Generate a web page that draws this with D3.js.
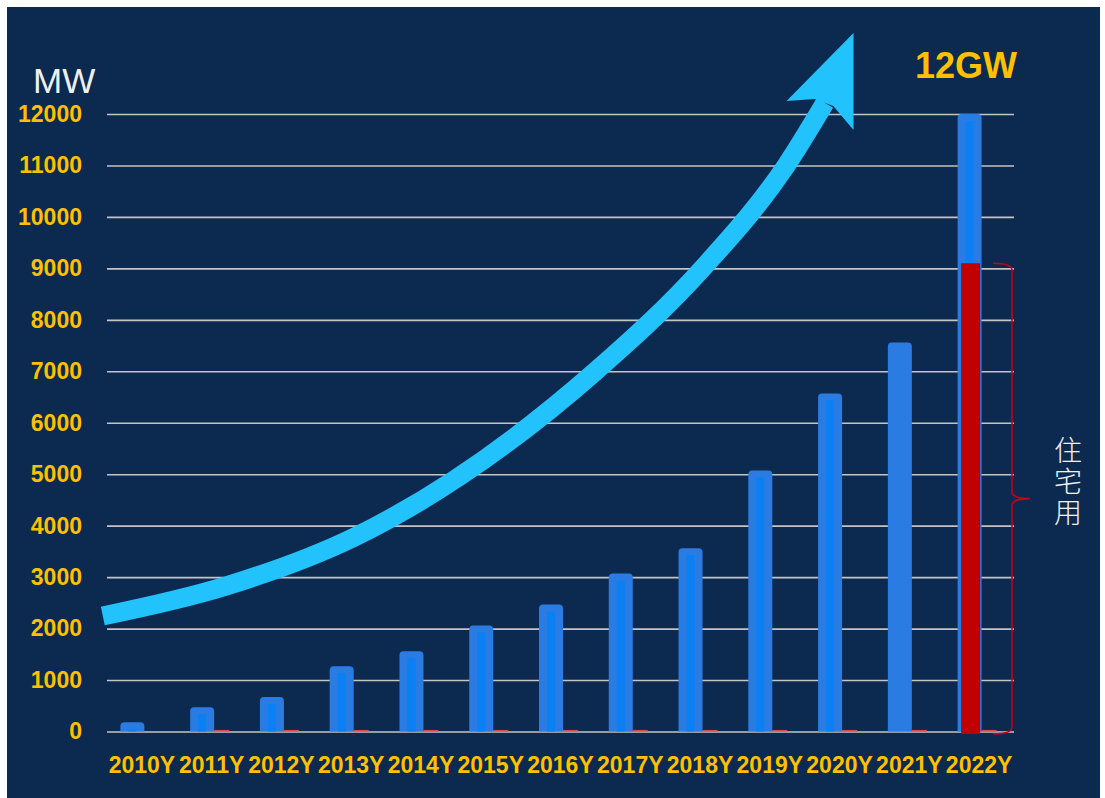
<!DOCTYPE html>
<html>
<head>
<meta charset="utf-8">
<script src="https://cdn.jsdelivr.net/npm/d3@7"></script>
<style>
  body { margin: 0; background: #fff; }
  svg { display: block; }
</style>
</head>
<body>
<div id="chart-region"></div>
<script>
const years = ["2010Y", "2011Y", "2012Y", "2013Y", "2014Y", "2015Y", "2016Y",
               "2017Y", "2018Y", "2019Y", "2020Y", "2021Y", "2022Y"];
const totalMW = [180, 470, 670, 1270, 1560, 2060, 2470, 3070, 3560, 5070, 6570, 7560, 12000];
const smallMW = [0, 30, 30, 30, 30, 30, 30, 30, 30, 30, 30, 30, 30];
const residentialMW = 9100;         // red part of the 2022 bar
const yTicks = d3.range(0, 12001, 1000);

// trend arrow, in (year index, MW) units
const arrowPath = [[-0.56, 2245], [1.19, 2820], [3.05, 3780], [6.49, 6986], [8.04, 9007],
                   [9.24, 11009], [9.79, 12214]];
const arrowHead = [[10.2, 13574], [10.2, 11688], [9.91, 12155], [9.64, 12291], [9.24, 12252]];

const W = 1105, H = 798;
const plot = { left: 107, right: 1014, top: 114, bottom: 731.5 };
const gold = "#ffc000";

const svg = d3.select("#chart-region")
  .append("svg")
  .attr("width", W)
  .attr("height", H);

svg.append("rect")
  .attr("x", 7).attr("y", 7)
  .attr("width", 1093).attr("height", H - 7)
  .attr("fill", "#0c2a50");

/* -------------------- SCALES -------------------- */

const x = d3.scaleBand()
  .domain(years)
  .range([plot.left, plot.right])
  .padding(0);

const y = d3.scaleLinear()
  .domain([0, 12000])
  .range([plot.bottom, plot.top]);

const bw = x.bandwidth();
const xi = d3.scaleLinear()
  .domain([0, years.length - 1])
  .range([x(years[0]) + bw / 2, x(years[years.length - 1]) + bw / 2]);

/* -------------------- AXES -------------------- */

const yAxis = svg.append("g")
  .attr("transform", `translate(${plot.left},0)`)
  .call(d3.axisLeft(y).tickValues(yTicks).tickFormat(d3.format("d"))
    .tickSize(-(plot.right - plot.left)).tickPadding(25));
yAxis.select(".domain").remove();
yAxis.selectAll(".tick line").attr("stroke", "#c4c4c4").attr("stroke-width", 1.6);
yAxis.selectAll(".tick text")
  .attr("fill", gold)
  .style("font", "bold 23px 'Liberation Sans', Arial, sans-serif");

const xAxis = svg.append("g")
  .attr("transform", `translate(0,${plot.bottom})`)
  .call(d3.axisBottom(x).tickSize(0).tickPadding(25));
xAxis.select(".domain").remove();
xAxis.selectAll(".tick text")
  .attr("fill", gold)
  .style("font", "bold 23px 'Liberation Sans', Arial, sans-serif");

/* -------------------- BARS -------------------- */

const bars = years.map((yr, i) => ({ yr, total: totalMW[i], small: smallMW[i] }));

const topRounded = (x0, y0, w, h, r) =>
  `M${x0},${y0 + h}V${y0 + r}Q${x0},${y0} ${x0 + r},${y0}H${x0 + w - r}` +
  `Q${x0 + w},${y0} ${x0 + w},${y0 + r}V${y0 + h}Z`;

const barW = 24;
svg.append("g").selectAll("path")
  .data(bars)
  .join("path")
  .attr("d", d => {
    const x0 = x(d.yr) + bw / 2 - 21.5;
    return topRounded(x0, y(d.total), barW, plot.bottom - y(d.total), 4);
  })
  .attr("fill", "#2a7be2");

// brighter inner stripe
svg.append("g").selectAll("rect")
  .data(bars.filter(d => d.yr !== "2021Y"))
  .join("rect")
  .attr("x", d => x(d.yr) + bw / 2 - 21.5 + 8)
  .attr("y", d => y(d.total) + 7)
  .attr("width", barW - 16)
  .attr("height", d => Math.max(0, plot.bottom - y(d.total) - 7))
  .attr("fill", "#0a80f4");

svg.append("g").selectAll("rect")
  .data(bars.filter(d => d.small > 0))
  .join("rect")
  .attr("x", d => x(d.yr) + bw / 2 + 2.5)
  .attr("y", d => y(d.small))
  .attr("width", 15)
  .attr("height", d => plot.bottom - y(d.small))
  .attr("fill", "#d9494c");

// residential share of 2022
const last = years[years.length - 1];
svg.append("rect")
  .attr("x", x(last) + bw / 2 - 18)
  .attr("y", y(residentialMW))
  .attr("width", 19)
  .attr("height", plot.bottom - y(residentialMW) + 2.5)
  .attr("fill", "#c00000");

/* -------------------- BRACKET -------------------- */

const bx = x(last) + bw - 2;
const bTop = y(residentialMW);
const bBot = plot.bottom + 2.5;
const bMid = (bTop + bBot) / 2;
svg.append("path")
  .attr("d", `M${bx - 19},${bTop}Q${bx},${bTop} ${bx},${bTop + 7}V${bMid - 7}` +
             `Q${bx},${bMid} ${bx + 18},${bMid}Q${bx},${bMid} ${bx},${bMid + 7}` +
             `V${bBot - 7}Q${bx},${bBot} ${bx - 19},${bBot}`)
  .attr("fill", "none")
  .attr("stroke", "#c8001a")
  .attr("stroke-width", 1.6);

svg.append("text")
  .attr("x", bx + 56)
  .attr("y", bMid - 62)
  .attr("fill", "#f2f2f2")
  .style("writing-mode", "vertical-rl")
  .style("letter-spacing", "3px")
  .style("font", "300 28px 'Noto Sans CJK SC', sans-serif")
  .text("住宅用");

/* -------------------- ARROW -------------------- */

svg.append("path")
  .datum(arrowPath)
  .attr("d", d3.line().x(d => xi(d[0])).y(d => y(d[1])).curve(d3.curveMonotoneX))
  .attr("fill", "none")
  .attr("stroke", "#22c3fd")
  .attr("stroke-width", 19);

svg.append("path")
  .datum(arrowHead)
  .attr("d", d3.line().x(d => xi(d[0])).y(d => y(d[1])).curve(d3.curveLinearClosed))
  .attr("fill", "#22c3fd");

/* -------------------- LABELS -------------------- */

svg.append("text")
  .attr("x", 33).attr("y", 93)
  .attr("fill", "#f0f0f0")
  .style("font", "35px 'Liberation Sans', Arial, sans-serif")
  .text("MW");

svg.append("text")
  .attr("x", 915).attr("y", 78)
  .attr("fill", gold)
  .style("font", "bold 36px 'Liberation Sans', Arial, sans-serif")
  .text("12GW");
</script>
</body>
</html>
